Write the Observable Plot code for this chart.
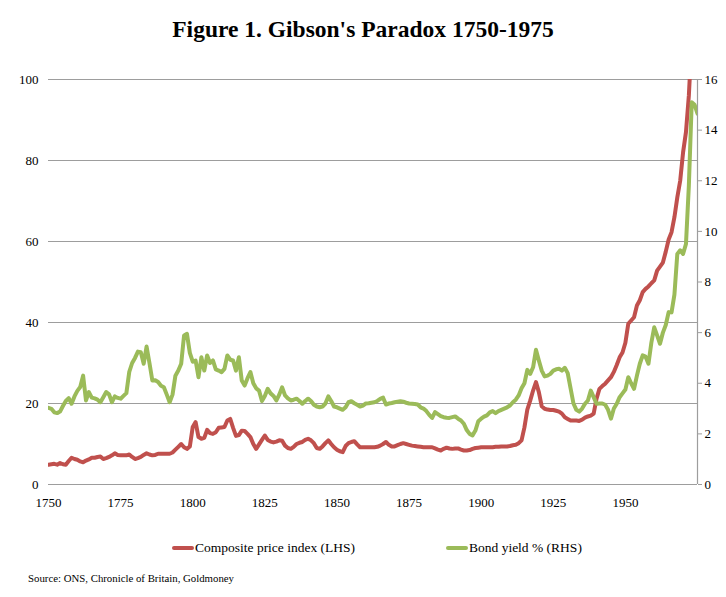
<!DOCTYPE html>
<html>
<head>
<meta charset="utf-8">
<script src="https://cdn.jsdelivr.net/npm/d3@7"></script>
<script src="https://cdn.jsdelivr.net/npm/@observablehq/plot@0.6"></script>
<style>
  body { margin: 0; background: #fff; }
  #wrap { position: relative; width: 726px; height: 597px; font-family: "Liberation Serif", serif; color: #000; }
  #title { position: absolute; left: 0; top: 16px; width: 726px; text-align: center; font-weight: bold; font-size: 23.5px; }
  #chart { position: absolute; left: 0; top: 60px; }
  .leg { position: absolute; top: 540px; font-size: 13.5px; display: flex; align-items: center; white-space: nowrap; }
  .sw { width: 22px; height: 4px; border-radius: 2px; margin-right: 1px; }
  #source { position: absolute; left: 28px; top: 572px; font-size: 10.8px; white-space: nowrap; }
</style>
</head>
<body>
<div id="wrap">
  <div id="title">Figure 1. Gibson's Paradox 1750-1975</div>
  <div id="chart"></div>
  <div class="leg" style="left:172px"><span class="sw" style="background:#c0504d"></span>Composite price index (LHS)</div>
  <div class="leg" style="left:446px"><span class="sw" style="background:#9bbb59"></span>Bond yield % (RHS)</div>
  <div id="source">Source: ONS, Chronicle of Britain, Goldmoney</div>
</div>
<script>
// Years 1750..1975, one value per year
const startYear = 1750;

// Composite price index (LHS)
const priceIndex = [
  4.9, 5.0, 5.1, 4.9, 5.3, 5.0, 4.9, 5.8, 6.6, 6.3,          // 1750s
  6.1, 5.7, 5.5, 5.9, 6.2, 6.6, 6.6, 6.8, 6.9, 6.3,          // 1760s
  6.5, 6.8, 7.2, 7.7, 7.3, 7.2, 7.2, 7.2, 7.4, 6.8,          // 1770s
  6.3, 6.5, 6.8, 7.3, 7.7, 7.4, 7.2, 7.3, 7.6, 7.6,          // 1780s
  7.6, 7.6, 7.6, 7.9, 8.6, 9.3, 10.0, 9.2, 8.8, 9.4,         // 1790s
  14.2, 15.4, 11.7, 11.3, 11.5, 13.5, 12.7, 12.5, 12.9, 14.0, // 1800s
  14.1, 14.2, 15.8, 16.2, 14.0, 12.0, 12.2, 13.3, 13.2, 12.5, // 1810s
  11.7, 10.0, 8.8, 9.9, 11.0, 12.1, 11.0, 10.6, 10.4, 10.6,  // 1820s
  10.9, 10.8, 9.6, 9.0, 8.8, 9.3, 10.0, 10.3, 10.5, 11.0,    // 1830s
  11.3, 10.9, 10.2, 9.0, 8.8, 9.4, 10.2, 10.9, 10.0, 9.2,    // 1840s
  8.6, 8.2, 8.0, 9.5, 10.2, 10.5, 10.7, 9.9, 9.2, 9.2,       // 1850s
  9.2, 9.2, 9.2, 9.2, 9.3, 9.6, 10.0, 10.5, 9.8, 9.4,        // 1860s
  9.4, 9.7, 10.0, 10.2, 10.0, 9.8, 9.6, 9.5, 9.4, 9.3,       // 1870s
  9.2, 9.2, 9.2, 9.2, 8.9, 8.6, 8.4, 8.8, 9.1, 8.9,          // 1880s
  8.8, 8.9, 8.9, 8.6, 8.4, 8.4, 8.5, 8.8, 9.0, 9.1,          // 1890s
  9.2, 9.2, 9.2, 9.2, 9.2, 9.3, 9.3, 9.4, 9.4, 9.4,          // 1900s
  9.5, 9.7, 9.8, 10.2, 10.9, 14.1, 18.5, 20.7, 23.2, 25.3,   // 1910s
  22.8, 19.3, 18.7, 18.5, 18.4, 18.4, 18.2, 18.0, 17.5, 16.6, // 1920s
  16.2, 15.8, 15.8, 15.8, 15.7, 16.0, 16.5, 16.8, 17.0, 17.5, // 1930s
  21.2, 23.6, 24.3, 24.9, 25.7, 26.5, 27.8, 29.5, 31.4, 32.6, // 1940s
  35.0, 39.7, 40.5, 41.3, 44.2, 45.5, 47.5, 48.3, 48.9, 49.7, // 1950s
  50.4, 52.8, 53.8, 54.8, 57.5, 60.5, 62.3, 66.0, 70.9, 75.0, // 1960s
  82.0, 87.0, 96.0, 110, 135, 165                              // 1970-1975
];

// Bond yield % (RHS)
const bondYield = [
  3.03, 2.99, 2.85, 2.82, 2.88, 3.10, 3.30, 3.41, 3.19, 3.48, // 1750s
  3.70, 3.85, 4.30, 3.32, 3.65, 3.43, 3.40, 3.35, 3.25, 3.45, // 1760s
  3.65, 3.56, 3.25, 3.48, 3.42, 3.39, 3.50, 3.61, 4.45, 4.80, // 1770s
  5.00, 5.25, 5.23, 4.77, 5.45, 4.80, 4.11, 4.12, 4.05, 3.90, // 1780s
  3.84, 3.55, 3.25, 3.55, 4.30, 4.50, 4.77, 5.89, 5.95, 5.20, // 1790s
  4.85, 4.90, 4.24, 5.03, 4.50, 5.10, 4.80, 4.90, 4.55, 4.50, // 1800s
  4.44, 4.57, 5.10, 4.93, 4.90, 4.50, 5.03, 4.11, 3.91, 4.20, // 1810s
  4.44, 4.00, 3.80, 3.71, 3.30, 3.50, 3.78, 3.60, 3.50, 3.32, // 1820s
  3.55, 3.84, 3.52, 3.40, 3.32, 3.35, 3.39, 3.30, 3.19, 3.30, // 1830s
  3.39, 3.30, 3.15, 3.08, 3.05, 3.08, 3.20, 3.48, 3.30, 3.08, // 1840s
  3.05, 3.00, 2.95, 3.05, 3.25, 3.29, 3.21, 3.15, 3.08, 3.12, // 1850s
  3.20, 3.21, 3.23, 3.25, 3.30, 3.38, 3.43, 3.16, 3.20, 3.22, // 1860s
  3.25, 3.27, 3.29, 3.27, 3.23, 3.20, 3.19, 3.18, 3.16, 3.05, // 1870s
  3.00, 2.90, 2.75, 2.63, 2.86, 2.78, 2.70, 2.66, 2.64, 2.63, // 1880s
  2.66, 2.69, 2.60, 2.53, 2.40, 2.15, 2.00, 1.94, 2.13, 2.50, // 1890s
  2.60, 2.68, 2.73, 2.85, 2.90, 2.82, 2.90, 2.95, 3.00, 3.05, // 1900s
  3.12, 3.25, 3.35, 3.52, 3.80, 4.00, 4.53, 4.37, 4.63, 5.32, // 1910s
  4.90, 4.50, 4.27, 4.30, 4.37, 4.50, 4.55, 4.57, 4.50, 4.61, // 1920s
  4.40, 3.80, 3.20, 2.95, 2.88, 3.00, 3.19, 3.32, 3.71, 3.45, // 1930s
  3.19, 3.20, 3.20, 3.15, 2.95, 2.60, 3.00, 3.19, 3.45, 3.60, // 1940s
  3.75, 4.24, 4.00, 3.78, 4.30, 4.77, 5.10, 5.05, 4.77, 5.60, // 1950s
  6.21, 5.89, 5.56, 6.00, 6.30, 6.81, 6.80, 7.50, 9.11, 9.25, // 1960s
  9.11, 9.50, 11.80, 15.10, 15.00, 14.65                      // 1970-1975
];

const xTicks = [1750, 1775, 1800, 1825, 1850, 1875, 1900, 1925, 1950];
const leftTicks = [0, 20, 40, 60, 80, 100];
const rightTicks = [0, 2, 4, 6, 8, 10, 12, 14, 16];
const rightMax = 16;
const leftMax = 100;
const k = leftMax / rightMax;

const data = priceIndex.map((v, i) => ({ year: startYear + i, price: v, bond: bondYield[i] }));

const gridColor = "#9d9d9d";

const chart = Plot.plot({
  width: 726,
  height: 450,
  marginTop: 19,
  marginBottom: 26,
  marginLeft: 48,
  marginRight: 29,
  style: { fontFamily: "Liberation Serif, serif", fontSize: "13px", color: "#000", background: "transparent" },
  x: { domain: [1750, 1975] },
  y: { domain: [0, leftMax] },
  marks: [
    Plot.ruleY(leftTicks, { stroke: gridColor, strokeWidth: 1.2 }),
    Plot.ruleX([1975], { y1: 0, y2: leftMax, stroke: gridColor, strokeWidth: 1.2 }),
    Plot.axisX({ ticks: xTicks, tickFormat: d => String(d), tickSize: 0, tickPadding: 13, label: null }),
    Plot.axisY({ ticks: leftTicks, tickSize: 0, tickPadding: 10, label: null }),
    Plot.axisY({
      anchor: "right",
      ticks: rightTicks.map(v => v * k),
      tickFormat: d => String(Math.round(d / k)),
      tickSize: 4,
      tickPadding: 3,
      stroke: gridColor,
      label: null
    }),
    Plot.line(data, { x: "year", y: "price", stroke: "#c0504d", strokeWidth: 4, clip: true }),
    Plot.line(data, { x: "year", y: d => d.bond * k, stroke: "#9bbb59", strokeWidth: 4, clip: true })
  ]
});

document.getElementById("chart").appendChild(chart);
</script>
</body>
</html>
